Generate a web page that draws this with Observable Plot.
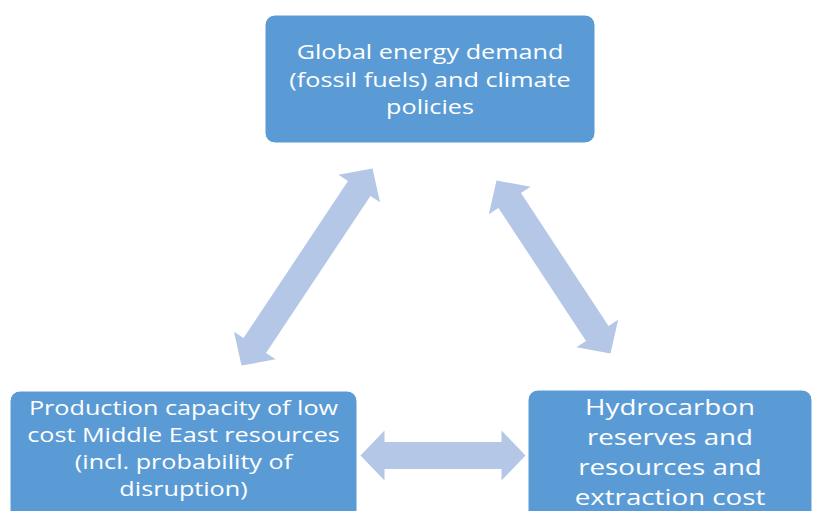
<!DOCTYPE html>
<html><head><meta charset="utf-8">
<script src="https://cdn.jsdelivr.net/npm/d3@7"></script>
<script src="https://cdn.jsdelivr.net/npm/@observablehq/plot@0.6"></script>
<style>html,body{margin:0;padding:0;background:#fff}#chart svg{display:block}</style>
</head><body><div id="chart"></div>
<script>
// Diagram content
const labels = [
  "Global energy demand\n(fossil fuels) and climate\npolicies",
  "Production capacity of low\ncost Middle East resources\n(incl. probability of\ndisruption)",
  "Hydrocarbon\nreserves and\nresources and\nextraction cost"
];
// two-way links between the boxes (index pairs)
const links = [[0, 1], [0, 2], [1, 2]];

// Layout (pixel space of the 814x511 picture)
const boxX1 = [265, 10, 528];
const boxX2 = [595, 357, 812];
const boxY1 = [15, 391, 390];
const boxY2 = [143, 530, 530];
const textY = [78, 447, 450];
const fontSizes = [20, 20, 22];
const lineHeights = [1.375, 1.35, 1.364];
const arrowStart = [[372, 168], [496, 180], [360, 455]];
const arrowEnd = [[241, 365], [610, 353], [525, 455]];
const stretch = 1.26;

const BOX = "#5b9bd5", ARROW = "#b4c7e7";

const boxes = labels.map((label, i) => ({
  label, x1: boxX1[i], x2: boxX2[i], y1: boxY1[i], y2: boxY2[i],
  cx: (boxX1[i] + boxX2[i]) / 2, ty: textY[i]
}));

// double-headed block arrow outline
function arrowPoly(A, B, id) {
  const dx = B[0] - A[0], dy = B[1] - A[1], L = Math.hypot(dx, dy);
  const ux = dx / L, uy = dy / L, nx = -uy, ny = ux;
  const hs = 13.5, hh = 25, hl = 24;
  const P = (base, t, s) => ({id, x: base[0] + ux * t + nx * s, y: base[1] + uy * t + ny * s});
  return [
    P(A, 0, 0), P(A, hl, hh), P(A, hl, hs), P(B, -hl, hs), P(B, -hl, hh),
    P(B, 0, 0), P(B, -hl, -hh), P(B, -hl, -hs), P(A, hl, -hs), P(A, hl, -hh)
  ];
}
const arrows = links.flatMap((lk, i) => arrowPoly(arrowStart[i], arrowEnd[i], i));

const plot = Plot.plot({
  width: 814, height: 511,
  margin: 0,
  x: {domain: [0, 814], range: [0, 814], axis: null},
  y: {domain: [0, 511], range: [0, 511], axis: null},
  style: {fontFamily: "'Open Sans', Lato, sans-serif", background: "#fff"},
  marks: [
    Plot.line(arrows, {x: "x", y: "y", z: "id", curve: "linear-closed", fill: ARROW, stroke: "none"}),
    Plot.rect(boxes, {x1: "x1", x2: "x2", y1: "y1", y2: "y2", rx: 10, fill: BOX, stroke: "#fff", strokeWidth: 1, clip: "frame"}),
    ...boxes.map((b, i) => Plot.text([b], {
      x: "cx", y: "ty", text: "label", fill: "#fff",
      fontSize: fontSizes[i], lineHeight: lineHeights[i], lineAnchor: "middle", textAnchor: "middle"
    }))
  ]
});
document.getElementById("chart").appendChild(plot);

// horizontal stretch of the labels, as in the reference picture
const xs = plot.scale("x");
d3.select(plot).selectAll('g[aria-label="text"]').each(function (d, i) {
  const cx = xs.apply(boxes[i].cx);
  d3.select(this).attr("transform", `translate(${cx},0) scale(${stretch},1) translate(${-cx},0)`);
});
</script>
</body></html>
